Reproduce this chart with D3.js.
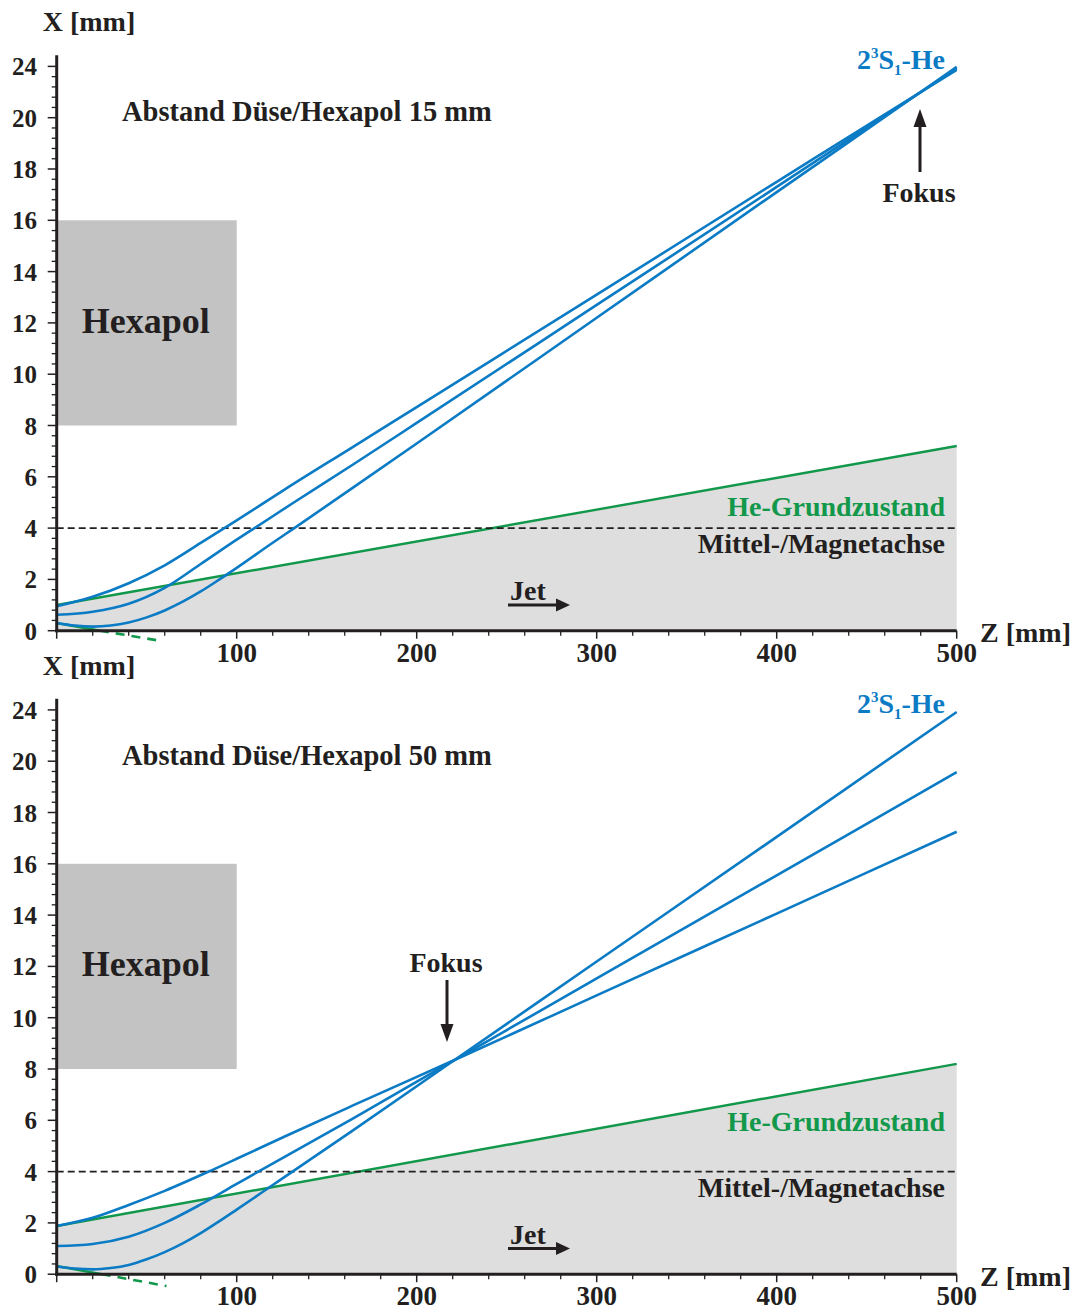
<!DOCTYPE html>
<html>
<head>
<meta charset="utf-8">
<script src="https://cdn.jsdelivr.net/npm/d3@7"></script>
<style>
  html, body { margin: 0; padding: 0; background: #ffffff; }
  svg text { font-family: "Liberation Serif", "Times New Roman", serif; font-weight: bold; }
</style>
</head>
<body>
<script>
// ---------------- data ----------------
// Z axis [mm]
const zDomain = [0, 500];
const zMajorTicks = [0, 100, 200, 300, 400, 500];
const zTickLabels = ["", "100", "200", "300", "400", "500"];
// X axis [mm]  (labels as printed: the topmost one reads "24")
const xDomain = [0, 22.4];
const xMajorTicks = [0, 2, 4, 6, 8, 10, 12, 14, 16, 18, 20, 22];
const xTickLabels = ["0", "2", "4", "6", "8", "10", "12", "14", "16", "18", "20", "24"];
const magnetAxis = 4;
const hexapolZ = [0, 100];
const hexapolX = [8, 16];

// Panel 1: Abstand Düse/Hexapol 15 mm   — [z, x]
const beam15A = [[0,0.95],[20,1.32],[40,1.85],[60,2.55],[80,3.42],[100,4.3],[127,5.52],[164,7.14],[200,8.72],[300,13.1],[400,17.5],[480,21.0],[500,21.86]];
const beam15B = [[0,0.62],[20,0.74],[40,1.05],[60,1.67],[80,2.6],[100,3.55],[111,4.05],[130,4.92],[164,6.45],[200,8.1],[300,12.7],[400,17.3],[480,21.0],[500,21.93]];
const beam15C = [[0,0.3],[10,0.2],[20,0.16],[30,0.2],[40,0.32],[50,0.52],[60,0.79],[70,1.13],[80,1.53],[90,1.98],[100,2.45],[120,3.43],[132,4.0],[164,5.55],[200,7.3],[300,12.2],[400,17.1],[480,21.0],[500,21.98]];
const ground15Upper = [[0,1.0],[500,7.2]];
const ground15LowerSolid = [[0,0.3],[24,0]];
const ground15LowerDashed = [[24,0],[58,-0.4]];

// Panel 2: Abstand Düse/Hexapol 50 mm
const beam50A = [[0,1.88],[20,2.2],[40,2.7],[60,3.25],[86,4.05],[100,4.5],[127,5.38],[164,6.56],[221,8.35],[300,10.87],[400,14.06],[500,17.25]];
const beam50B = [[0,1.1],[20,1.18],[40,1.46],[60,2.0],[80,2.72],[100,3.52],[112,4.0],[164,6.05],[221,8.35],[300,11.53],[400,15.55],[500,19.57]];
const beam50C = [[0,0.3],[10,0.22],[20,0.19],[30,0.24],[40,0.36],[50,0.58],[60,0.86],[70,1.2],[80,1.6],[90,2.05],[100,2.52],[117,3.33],[131,4.0],[164,5.58],[221,8.35],[300,12.19],[400,17.05],[500,21.92]];
const ground50Upper = [[0,1.88],[500,8.2]];
const ground50LowerSolid = [[0,0.32],[25,0]];
const ground50LowerDashed = [[25,0],[61,-0.46]];

const titles = ["Abstand Düse/Hexapol 15 mm", "Abstand Düse/Hexapol 50 mm"];

// ---------------- drawing ----------------
const W = 1075, H = 1310;
const BLUE = "#0a7bc4", GREEN = "#12984a", INK = "#231f20";
const svg = d3.select("body").append("svg").attr("width", W).attr("height", H);

function arrow(g, x1, y1, x2, y2, head, half) {
  const ang = Math.atan2(y2 - y1, x2 - x1);
  const bx = x2 - head * Math.cos(ang), by = y2 - head * Math.sin(ang);
  g.append("line").attr("x1", x1).attr("y1", y1).attr("x2", bx).attr("y2", by)
    .attr("stroke", INK).attr("stroke-width", 3);
  const px = -Math.sin(ang) * half, py = Math.cos(ang) * half;
  g.append("path").attr("d", `M${x2},${y2}L${bx + px},${by + py}L${bx - px},${by - py}Z`).attr("fill", INK);
}

function drawPanel(cfg) {
  const off = cfg.off;
  const z = d3.scaleLinear().domain(zDomain).range([56.7, 956.7]);
  const xs = d3.scaleLinear().domain([0, 1]).range([630.7 + off, 630.7 + off - 25.65]);
  const x = d3.scaleLinear().domain(xDomain).range([xs(xDomain[0]), xs(xDomain[1])]);
  const g = svg.append("g");

  // grey area below the ground-state beam edge
  const upper = cfg.upper;
  const area = d3.area().x(d => z(d[0])).y0(x(0)).y1(d => x(d[1]));
  g.append("path").datum(upper).attr("d", area).attr("fill", "#dedede");

  // hexapol block
  g.append("rect").attr("x", z(hexapolZ[0])).attr("y", x(hexapolX[1]))
    .attr("width", z(hexapolZ[1]) - z(hexapolZ[0])).attr("height", x(hexapolX[0]) - x(hexapolX[1]))
    .attr("fill", "#c3c3c3");
  g.append("text").attr("x", (z(hexapolZ[0]) + z(hexapolZ[1])) / 2 - 1).attr("y", (x(hexapolX[0]) + x(hexapolX[1])) / 2 + 10)
    .attr("text-anchor", "middle").attr("font-size", 36).attr("fill", INK).text("Hexapol");

  const line = d3.line().x(d => z(d[0])).y(d => x(d[1]));
  const smooth = d3.line().x(d => z(d[0])).y(d => x(d[1])).curve(d3.curveMonotoneX);

  // green ground-state lines
  g.append("path").datum(upper).attr("d", line).attr("fill", "none").attr("stroke", GREEN).attr("stroke-width", 2.4);
  g.append("path").datum(cfg.lowerSolid).attr("d", line).attr("fill", "none").attr("stroke", GREEN).attr("stroke-width", 2.4);
  g.append("path").datum(cfg.lowerDashed).attr("d", line).attr("fill", "none").attr("stroke", GREEN)
    .attr("stroke-width", 2.6).attr("stroke-dasharray", "9,7");

  // magnet axis (dashed)
  g.append("line").attr("x1", z(0)).attr("x2", z(500)).attr("y1", x(magnetAxis)).attr("y2", x(magnetAxis))
    .attr("stroke", INK).attr("stroke-width", 1.6).attr("stroke-dasharray", "7,4");

  // metastable beam trajectories
  cfg.beams.forEach(b => {
    g.append("path").datum(b).attr("d", smooth).attr("fill", "none").attr("stroke", BLUE)
      .attr("stroke-width", 2.6).attr("stroke-linejoin", "round");
  });

  // axes
  const zMinor = d3.range(0, 501, 20).filter(v => v % 100 !== 0);
  g.selectAll(null).data(zMinor).join("line")
    .attr("x1", d => z(d)).attr("x2", d => z(d)).attr("y1", x(0)).attr("y2", x(0) + 5)
    .attr("stroke", INK).attr("stroke-width", 1.3);
  g.selectAll(null).data(zMajorTicks).join("line")
    .attr("x1", d => z(d)).attr("x2", d => z(d)).attr("y1", x(0)).attr("y2", x(0) + 8)
    .attr("stroke", INK).attr("stroke-width", 1.5);
  g.selectAll(null).data(zMajorTicks).join("text")
    .attr("x", d => z(d)).attr("y", x(0) + 31).attr("text-anchor", "middle")
    .attr("font-size", 27).attr("fill", INK).text((d, i) => zTickLabels[i]);

  const xMinor = d3.range(0, 56).map(i => i * 0.4).filter(v => Math.abs(v / 2 - Math.round(v / 2)) > 1e-6);
  g.selectAll(null).data(xMinor).join("line")
    .attr("x1", z(0) - 5).attr("x2", z(0)).attr("y1", d => x(d)).attr("y2", d => x(d))
    .attr("stroke", INK).attr("stroke-width", 1.3);
  g.selectAll(null).data(xMajorTicks).join("line")
    .attr("x1", z(0) - 9).attr("x2", z(0)).attr("y1", d => x(d)).attr("y2", d => x(d))
    .attr("stroke", INK).attr("stroke-width", 1.5);
  g.selectAll(null).data(xMajorTicks).join("text")
    .attr("x", 37).attr("y", d => x(d) + 9).attr("text-anchor", "end")
    .attr("font-size", 25).attr("fill", INK).text((d, i) => xTickLabels[i]);

  g.append("line").attr("x1", z(0)).attr("x2", z(0)).attr("y1", x(xDomain[1]) - 1).attr("y2", x(0) + 1.5)
    .attr("stroke", INK).attr("stroke-width", 3);
  g.append("line").attr("x1", z(0) - 1.5).attr("x2", z(500)).attr("y1", x(0)).attr("y2", x(0))
    .attr("stroke", INK).attr("stroke-width", 3);

  // axis titles
  g.append("text").attr("x", 89).attr("y", 31 + off).attr("text-anchor", "middle")
    .attr("font-size", 28).attr("fill", INK).text("X [mm]");
  g.append("text").attr("x", 980).attr("y", 642 + off)
    .attr("font-size", 28).attr("fill", INK).text("Z [mm]");

  // annotations
  g.append("text").attr("x", 122).attr("y", 121 + off).attr("font-size", 28.5).attr("fill", INK).text(cfg.title);

  const sp = g.append("text").attr("x", 945).attr("y", 69 + off).attr("text-anchor", "end")
    .attr("font-size", 28).attr("fill", BLUE);
  sp.append("tspan").text("2");
  sp.append("tspan").attr("font-size", 15).attr("dy", -11).text("3");
  sp.append("tspan").attr("dy", 11).text("S");
  sp.append("tspan").attr("font-size", 15).attr("dy", 6).text("1");
  sp.append("tspan").attr("dy", -6).text("-He");

  g.append("text").attr("x", 945).attr("y", cfg.groundLabelY).attr("text-anchor", "end")
    .attr("font-size", 28).attr("fill", GREEN).text("He-Grundzustand");
  g.append("text").attr("x", 945).attr("y", 553 + off).attr("text-anchor", "end")
    .attr("font-size", 28).attr("fill", INK).text("Mittel-/Magnetachse");

  g.append("text").attr("x", 510).attr("y", 600 + off).attr("font-size", 28).attr("fill", INK).text("Jet");
  arrow(g, 508, 605 + off, 570, 605 + off, 14, 6.5);

  // focus
  g.append("text").attr("x", cfg.fokus.tx).attr("y", cfg.fokus.ty).attr("text-anchor", "middle")
    .attr("font-size", 28).attr("fill", INK).text("Fokus");
  arrow(g, cfg.fokus.ax, cfg.fokus.a1, cfg.fokus.ax, cfg.fokus.a2, 18, 6.5);
}

drawPanel({
  off: 0, title: titles[0],
  beams: [beam15A, beam15B, beam15C],
  upper: ground15Upper, lowerSolid: ground15LowerSolid, lowerDashed: ground15LowerDashed,
  groundLabelY: 516,
  fokus: { tx: 919, ty: 202, ax: 920, a1: 172, a2: 109 }
});
drawPanel({
  off: 643.5, title: titles[1],
  beams: [beam50A, beam50B, beam50C],
  upper: ground50Upper, lowerSolid: ground50LowerSolid, lowerDashed: ground50LowerDashed,
  groundLabelY: 1131,
  fokus: { tx: 446, ty: 972, ax: 447, a1: 980, a2: 1042 }
});
</script>
</body>
</html>
